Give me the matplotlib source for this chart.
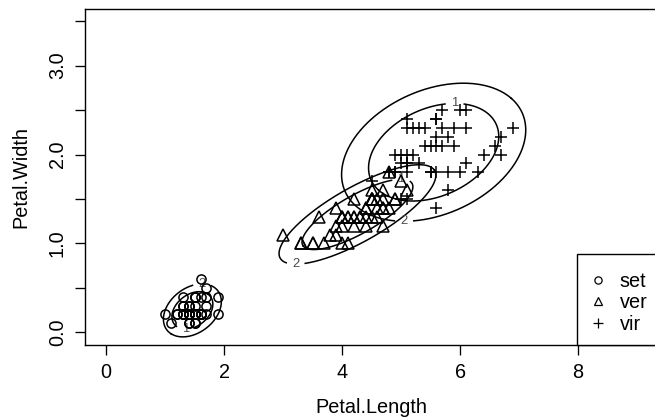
import numpy as np
import matplotlib
matplotlib.use("Agg")
import matplotlib.pyplot as plt
from matplotlib.lines import Line2D

plt.rcParams['font.family'] = ['Liberation Sans', 'DejaVu Sans']

# ---- data (iris petal measurements) ----
species = ["set", "ver", "vir"]
set_length = [1.4,1.4,1.3,1.5,1.4,1.7,1.4,1.5,1.4,1.5,1.5,1.6,1.4,1.1,1.2,1.5,1.3,1.4,1.7,1.5,
              1.7,1.5,1.0,1.7,1.9,1.6,1.6,1.5,1.4,1.6,1.6,1.5,1.5,1.4,1.5,1.2,1.3,1.4,1.3,1.5,
              1.3,1.3,1.3,1.6,1.9,1.4,1.6,1.4,1.5,1.4]
set_width = [0.2,0.2,0.2,0.2,0.2,0.4,0.3,0.2,0.2,0.1,0.2,0.2,0.1,0.1,0.2,0.4,0.4,0.3,0.3,0.3,
             0.2,0.4,0.2,0.5,0.2,0.2,0.4,0.2,0.2,0.2,0.2,0.4,0.1,0.2,0.2,0.2,0.2,0.1,0.2,0.2,
             0.3,0.3,0.2,0.6,0.4,0.3,0.2,0.2,0.2,0.2]
ver_length = [4.7,4.5,4.9,4.0,4.6,4.5,4.7,3.3,4.6,3.9,3.5,4.2,4.0,4.7,3.6,4.4,4.5,4.1,4.5,3.9,
              4.8,4.0,4.9,4.7,4.3,4.4,4.8,5.0,4.5,3.5,3.8,3.7,3.9,5.1,4.5,4.5,4.7,4.4,4.1,4.0,
              4.4,4.6,4.0,3.3,4.2,4.2,4.2,4.3,3.0,4.1]
ver_width = [1.4,1.5,1.5,1.3,1.5,1.3,1.6,1.0,1.3,1.4,1.0,1.5,1.0,1.4,1.3,1.4,1.5,1.0,1.5,1.1,
             1.8,1.3,1.5,1.2,1.3,1.4,1.4,1.7,1.5,1.0,1.1,1.0,1.2,1.6,1.5,1.6,1.5,1.3,1.3,1.3,
             1.2,1.4,1.2,1.0,1.3,1.2,1.3,1.3,1.1,1.3]
vir_length = [6.0,5.1,5.9,5.6,5.8,6.6,4.5,6.3,5.8,6.1,5.1,5.3,5.5,5.0,5.1,5.3,5.5,6.7,6.9,5.0,
              5.7,4.9,6.7,4.9,5.7,6.0,4.8,4.9,5.6,5.8,6.1,6.4,5.6,5.1,5.6,6.1,5.6,5.5,4.8,5.4,
              5.6,5.1,5.1,5.9,5.7,5.2,5.0,5.2,5.4,5.1]
vir_width = [2.5,1.9,2.1,1.8,2.2,2.1,1.7,1.8,1.8,2.5,2.0,1.9,2.1,2.0,2.4,2.3,1.8,2.2,2.3,1.5,
             2.3,2.0,2.0,1.8,2.1,1.8,1.8,1.8,2.1,1.6,1.9,2.0,2.2,1.5,1.4,2.3,2.4,1.8,1.8,2.1,
             2.4,2.3,1.9,2.3,2.5,2.3,1.9,2.0,2.3,1.8]

contour_labels = ["1", "2"]
contour_radius = [2.0, 2.0 * np.sqrt(2.0)]   # Mahalanobis radius of each contour
# where each contour's label sits: +1 top, -1 bottom
label_side = {"set": [-1, 1], "ver": [1, -1], "vir": [1, -1]}

x_ticks = [0, 2, 4, 6, 8]
y_ticks = [0.0, 0.5, 1.0, 1.5, 2.0, 2.5, 3.0, 3.5]
y_ticklabels = ["0.0", "", "1.0", "", "2.0", "", "3.0", ""]

groups = {"set": (set_length, set_width), "ver": (ver_length, ver_width), "vir": (vir_length, vir_width)}
markers = {"set": dict(marker='o', ms=6.6), "ver": dict(marker='^', ms=8.2), "vir": dict(marker='+', ms=8.4)}

FS = 14.3
fig = plt.figure(figsize=(6.55, 4.2), dpi=100)
L, R, T, B = 84.9, 658.3, 8.8, 344.7
ax = fig.add_axes([L / 655, (420 - B) / 420, (R - L) / 655, (B - T) / 420])
ax.set_xlim(-0.36, 9.36)
ax.set_ylim(-0.14, 3.64)

t = np.linspace(0, 2 * np.pi, 1441)
for sp in species:
    xs, ys = np.asarray(groups[sp][0], float), np.asarray(groups[sp][1], float)
    m = np.array([xs.mean(), ys.mean()])
    S = np.cov(xs, ys)
    Lc = np.linalg.cholesky(S)
    sx, sy, sxy = np.sqrt(S[0, 0]), np.sqrt(S[1, 1]), S[0, 1]
    for lab, r, side in zip(contour_labels, contour_radius, label_side[sp]):
        pts = m[:, None] + r * (Lc @ np.vstack([np.cos(t), np.sin(t)]))
        lx = m[0] + side * r * sxy / sy
        ly = m[1] + side * r * sy
        pix = ax.transData.transform(pts.T)
        lpix = ax.transData.transform([[lx, ly]])[0]
        d = np.hypot(pix[:, 0] - lpix[0], pix[:, 1] - lpix[1])
        px, py = pts[0].copy(), pts[1].copy()
        px[d < 9.5] = np.nan
        py[d < 9.5] = np.nan
        k = int(np.nanargmax(d))
        px, py = np.roll(px, -k), np.roll(py, -k)
        ax.plot(px, py, color='black', lw=1.1, zorder=2)
        ax.text(lx, ly, lab, ha='center', va='center', fontsize=9.4, color='#4a4a4a', zorder=2)

for sp in species:
    ax.plot(groups[sp][0], groups[sp][1], ls='none', color='black', mfc='none', mew=1.1,
            zorder=3, **markers[sp])

ax.set_xticks(x_ticks)
ax.set_xticklabels([str(v) for v in x_ticks])
ax.set_yticks(y_ticks)
ax.set_yticklabels(y_ticklabels, rotation=90, va='center')
ax.tick_params(direction='out', length=7.2, width=0.95, labelsize=FS, pad=5.7, color='black')
for s in ax.spines.values():
    s.set_linewidth(1.0)

ax.set_xlabel('Petal.Length', fontsize=FS)
ax.xaxis.label.set_va('top')
ax.xaxis.set_label_coords(0.5, (B - 398) / (B - T))
ax.set_ylabel('Petal.Width', fontsize=FS)
ax.yaxis.set_label_coords((30 - L) / (R - L), 0.5)

handles = [Line2D([], [], ls='none', color='black', mfc='none', mew=0.9, marker='o', ms=5.2),
           Line2D([], [], ls='none', color='black', mfc='none', mew=0.9, marker='^', ms=6.2),
           Line2D([], [], ls='none', color='black', mfc='none', mew=0.9, marker='+', ms=7.0)]
leg = ax.legend(handles, species, loc='lower left', bbox_to_anchor=(577 / 655, (420 - B) / 420),
                bbox_transform=fig.transFigure, borderaxespad=0, fancybox=False, framealpha=1,
                edgecolor='black', fontsize=FS, handlelength=1.0, handletextpad=0.6,
                borderpad=0.55, labelspacing=0.12, title=' ', title_fontsize=4.5)
leg.get_frame().set_linewidth(1.0)

fig.savefig('out.png', dpi=100)
